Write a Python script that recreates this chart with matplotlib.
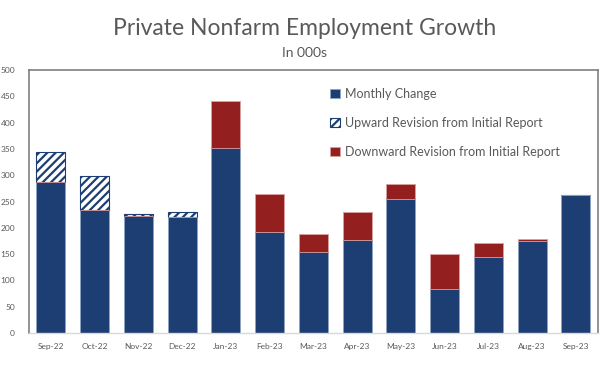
import matplotlib
matplotlib.use("Agg")
import matplotlib.pyplot as plt
import numpy as np

plt.rcParams['font.family'] = ['Lato', 'DejaVu Sans']
plt.rcParams['hatch.linewidth'] = 1.6

categories = ["Sep-22", "Oct-22", "Nov-22", "Dec-22", "Jan-23", "Feb-23", "Mar-23",
              "Apr-23", "May-23", "Jun-23", "Jul-23", "Aug-23", "Sep-23"]
monthly = [288, 234, 222, 220, 352, 192, 155, 177, 254, 84, 144, 175, 263]
upward = [56, 64, 5, 11, 0, 0, 0, 0, 0, 0, 0, 0, 0]
downward = [0, 0, 0, 0, 90, 73, 34, 53, 29, 66, 28, 4, 0]

blue = "#1D3E72"
red = "#931F1F"
gray = "#595959"

fig = plt.figure(figsize=(6.10, 3.92), dpi=100)
ax = fig.add_axes([0.0475, 0.1505, 0.9325, 0.6705])
x = np.arange(len(categories))
w = 0.66

ax.bar(x, monthly, w, color=blue, edgecolor="#8FA3C4", linewidth=0.6, label="Monthly Change", zorder=2)
ax.bar(x, upward, w, bottom=monthly, color="white", edgecolor=blue, hatch="////",
       linewidth=0.8, label="Upward Revision from Initial Report", zorder=2)
ax.bar(x, downward, w, bottom=monthly, color=red, edgecolor="#D9A0A0", linewidth=0.6,
       label="Downward Revision from Initial Report", zorder=2)

ax.set_ylim(0, 500)
ax.set_xlim(-0.5, len(categories) - 0.5)
ax.set_yticks(range(0, 501, 50))
ax.set_xticks(x)
ax.set_xticklabels(categories)
ax.tick_params(axis='both', length=0, labelsize=6, labelcolor=gray)
ax.tick_params(axis='x', pad=7)
ax.tick_params(axis='y', pad=10)

for s in ["left", "top", "right"]:
    ax.spines[s].set_color("#7F7F7F")
    ax.spines[s].set_linewidth(1.2)
ax.spines["bottom"].set_color("#D9D9D9")
ax.spines["bottom"].set_linewidth(1.0)

fig.text(0.5, 0.928, "Private Nonfarm Employment Growth", ha="center", va="center",
         fontsize=16.5, color=gray)
fig.text(0.5, 0.865, "In 000s", ha="center", va="center", fontsize=10, color=gray)

leg = ax.legend(loc="upper left", bbox_to_anchor=(0.51, 0.975), frameon=False,
                fontsize=9, labelcolor=gray, handlelength=0.8, handleheight=0.8,
                handletextpad=0.4, labelspacing=1.35)

fig.savefig("out.png", dpi=100)
